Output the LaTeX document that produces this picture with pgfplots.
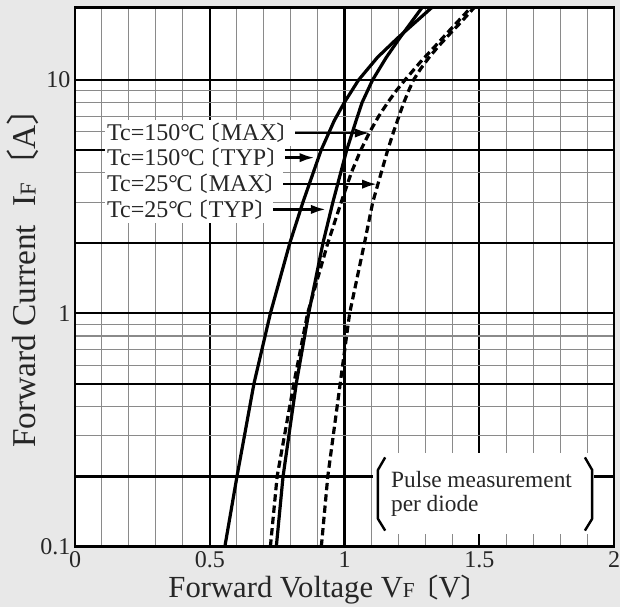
\documentclass[border=0pt]{standalone}
\usepackage{fontspec}
\setmainfont{Liberation Serif}
\newfontfamily\cjk{Noto Sans CJK JP}
\usepackage{graphicx}
\usepackage{pgfplots}
\pgfplotsset{compat=1.18}
\usetikzlibrary{arrows.meta}

\definecolor{bggray}{HTML}{E8E8E8}
\definecolor{minorgrid}{HTML}{8A8A8A}

\newcommand{\degC}{°\kern-0.06em C}
\newcommand{\lb}{\kern-0.32em\scalebox{1}[0.85]{\cjk 〔}}
\newcommand{\rb}{\scalebox{1}[0.85]{\cjk 〕}\kern-0.32em}

% one series per curve: voltage [V], current [A]
\pgfplotstableread{
V I
0.556 0.1
0.601 0.2
0.629 0.3
0.664 0.5
0.725 1
0.797 2
0.846 3
0.913 5
0.962 6.7
0.999 8
1.052 10
1.122 12.5
1.196 15.1
1.335 21
}\hightyp
\pgfplotstableread{
V I
0.725 0.1
0.750 0.2
0.812 0.5
0.863 1
0.938 2
0.988 3
1.025 4
1.060 5
1.094 6
1.127 7
1.160 8
1.192 9
1.224 10
1.283 12
1.337 14
1.383 16
1.424 18
1.478 21
}\highmax
\pgfplotstableread{
V I
0.747 0.1
0.772 0.2
0.821 0.5
0.867 1
0.920 2
0.957 3
1.008 5
1.043 6.7
1.065 8
1.104 10
1.155 12.5
1.204 15.1
1.295 21
}\lowtyp
\pgfplotstableread{
V I
0.914 0.1
0.938 0.2
0.984 0.5
1.019 1
1.074 2
1.105 3
1.136 4
1.160 5
1.182 6
1.202 7
1.220 8
1.238 9
1.256 10
1.283 11.2
1.316 12.6
1.352 14.1
1.398 16.1
1.434 17.8
1.490 21
}\lowmax

\begin{document}
\begin{tikzpicture}
\useasboundingbox (-56.25pt,-45.2pt) rectangle (408.75pt,410pt);
\fill[bggray] (-56.25pt,-45.2pt) rectangle (408.75pt,410pt);
\begin{axis}[
  at={(0,0)}, anchor=south west,
  scale only axis, width=404.25pt, height=404.5pt,
  ymode=log,
  xmin=0, xmax=2, ymin=0.1, ymax=20.5,
  axis background/.style={fill=white},
  xtick={0,0.5,1,1.5,2}, xticklabels={0,0.5,1,1.5,2},
  minor xtick={0.1,0.2,0.3,0.4,0.6,0.7,0.8,0.9,1.1,1.2,1.3,1.4,1.6,1.7,1.8,1.9},
  ytick={0.1,1,10}, yticklabels={0.1,1,10},
  extra y ticks={0.2,0.5,2,5}, extra y tick labels={},
  extra y tick style={grid=major},
  minor ytick={0.3,0.4,0.6,0.7,0.8,0.9,3,4,6,7,8,9},
  grid=both,
  major grid style={black, line width=1.6pt},
  minor grid style={minorgrid, line width=0.8pt},
  major tick length=0pt, minor tick length=0pt,
  axis line style={black, line width=1.8pt},
  ticklabel style={font=\fontsize{18}{18}\selectfont, text=black!85},
  xlabel={Forward Voltage V{\fontsize{16}{16}\selectfont F}\hspace{0.1em}\lb V\rb},
  ylabel={Forward Current\hspace{0.3em} I{\fontsize{17}{17}\selectfont F}{\cjk 〔}A{\cjk 〕}},
  xlabel style={font=\fontsize{23}{23}\selectfont, text=black!85,
    at={(axis description cs:0.464,-0.095)}, anchor=base},
  ylabel style={font=\fontsize{25}{25}\selectfont, text=black!85,
    at={(axis description cs:-0.0965,0.513)}, anchor=center},
  curve/.style={black, line width=2.4pt, line join=round, mark=none},
]
\addplot[curve, solid] table[x=V, y=I] {\hightyp};
\addplot[curve, solid] table[x=V, y=I] {\lowtyp};
\addplot[curve, dash pattern=on 5.5pt off 3pt] table[x=V, y=I] {\highmax};
\addplot[curve, dash pattern=on 5.5pt off 3pt] table[x=V, y=I] {\lowmax};

% labels with arrows to their curves
\begin{scope}[every node/.style={fill=white, inner xsep=1.5pt, inner ysep=0pt,
    minimum height=20pt, anchor=west, text=black!85,
    font=\fontsize{18}{18}\selectfont}]
\node (a) at (axis cs:0.111,5.93) {Tc=150\degC\lb MAX\rb};
\node (b) at (axis cs:0.111,4.65) {Tc=150\degC\lb TYP\rb};
\node (c) at (axis cs:0.111,3.58) {Tc=25\degC\lb MAX\rb};
\node (d) at (axis cs:0.111,2.79) {Tc=25\degC\lb TYP\rb};
\end{scope}
\begin{scope}[line width=1.8pt, -{Latex[length=11pt, width=7pt]}]
\draw (a.east) -- (axis cs:1.093,5.93);
\draw (b.east) -- (axis cs:0.888,4.65);
\draw (c.east) -- (axis cs:1.120,3.58);
\draw (d.east) -- (axis cs:0.930,2.79);
\end{scope}

% note box
\fill[white] (axis cs:1.107,0.1137) rectangle (axis cs:1.926,0.2532);
\draw[line width=1.8pt, line join=round]
  (axis cs:1.151,0.2414) -- (axis cs:1.124,0.2132) -- (axis cs:1.124,0.1317) -- (axis cs:1.151,0.1172);
\draw[line width=1.8pt, line join=round]
  (axis cs:1.892,0.2414) -- (axis cs:1.919,0.2132) -- (axis cs:1.919,0.1317) -- (axis cs:1.892,0.1172);
\node[anchor=west, align=left, inner sep=0pt, text=black!85,
  font=\fontsize{17.5}{18}\selectfont] at (axis cs:1.172,0.168)
  {Pulse measurement\\per diode};
\end{axis}
\end{tikzpicture}
\end{document}
